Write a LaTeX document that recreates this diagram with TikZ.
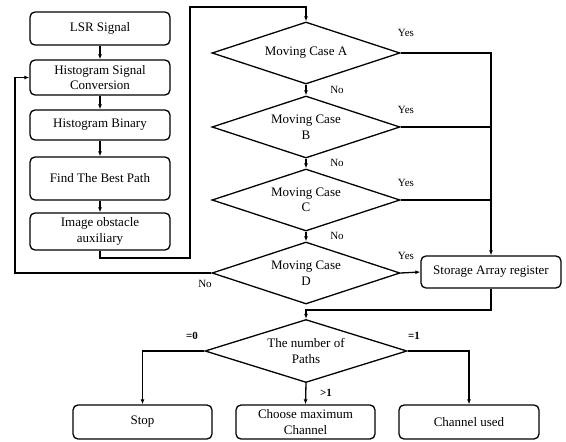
\documentclass[tikz,border=0pt]{standalone}
\usepackage{fontspec}
\setmainfont{Liberation Serif}
\usetikzlibrary{shapes.geometric,arrows.meta}
\begin{document}
\begin{tikzpicture}[x=1pt,y=-1pt,
  every node/.style={font=\fontsize{13}{15.5}\selectfont},
  box/.style={draw,line width=1.3pt,rounded corners=5pt,minimum width=140pt,align=center,inner sep=1pt},
  dec/.style={draw,line width=1.3pt,diamond,aspect=3,inner sep=0pt,minimum width=188pt,minimum height=62pt,align=center},
  lbl/.style={font=\fontsize{11}{13}\selectfont,inner sep=0pt},
  blbl/.style={font=\fontsize{11}{13}\selectfont\bfseries,inner sep=0pt},
  ln/.style={line width=1.3pt},
  ar/.style={line width=1.3pt,-{Latex[length=5pt,width=4pt]}}]
\useasboundingbox (0,0) rectangle (566,442);
% left column
\node[box,minimum height=33pt] (lsr) at (100,28.5) {LSR Signal};
\node[box,minimum height=35pt] (hsc) at (100,77.5) {Histogram Signal\\Conversion};
\node[box,minimum height=30pt] (hb) at (100,125) {Histogram Binary};
\node[box,minimum height=43pt] (fbp) at (100,178.5) {Find The Best Path};
\node[box,minimum height=37pt] (ioa) at (100,231.5) {Image obstacle\\auxiliary};
% diamonds
\node[dec] (a) at (306,53) {Moving Case A};
\node[dec] (b) at (306,127) {Moving Case\\B};
\node[dec] (c) at (306,200) {Moving Case\\C};
\node[dec] (d) at (306,273) {Moving Case\\D};
\node[box,minimum height=32pt] (sar) at (491,272) {Storage Array register};
\node[dec,minimum width=202pt,minimum height=63pt] (n) at (306,351) {The number of\\Paths};
\node[box,minimum height=34pt,minimum width=139pt] (stop) at (142.5,422) {Stop};
\node[box,minimum height=34pt,minimum width=139pt] (ch) at (305.5,422) {Choose maximum\\Channel};
\node[box,minimum height=34pt,minimum width=140pt] (cu) at (469,422) {Channel used};
% coordinates
\coordinate (p1) at (100,258);
\coordinate (p2) at (190,258);
\coordinate (p3) at (190,7);
\coordinate (p4) at (306,7);
\coordinate (q1) at (15,273);
\coordinate (q2) at (15,77.5);
\coordinate (r1) at (491,310);
\coordinate (r2) at (306,310);
% arrows
\draw[ar] (lsr) -- (hsc);
\draw[ar] (hsc) -- (hb);
\draw[ar] (hb) -- (fbp);
\draw[ar] (fbp) -- (ioa);
\draw[ar] (ioa.south) -- (p1) -- (p2) -- (p3) -- (p4) -- (a.north);
\draw[ar] (a.south) -- (b.north);
\draw[ar] (b.south) -- (c.north);
\draw[ar] (c.south) -- (d.north);
\draw[ar] (a.east) -| (sar.north);
\draw[ln] (b.east) -- (b.east -| sar.north);
\draw[ln] (c.east) -- (c.east -| sar.north);
\draw[ar] (d.east) -- (sar.west);
\draw[ar] (d.west) -- (q1) -- (q2) -- (hsc.west);
\draw[ar] (sar.south) -- (r1) -- (r2) -- (n.north);
\draw[ar] (n.west) -| (stop.north);
\draw[ar] (n.south) -- (ch.north);
\draw[ar] (n.east) -| (cu.north);
% labels
\node[lbl] (ya) at (406,33) {Yes};
\node[lbl] (yb) at (406,110) {Yes};
\node[lbl] (yc) at (406,183) {Yes};
\node[lbl] (yd) at (406,256) {Yes};
\node[lbl] (na) at (337,90) {No};
\node[lbl] (nb) at (337,163) {No};
\node[lbl] (nc) at (337,236) {No};
\node[lbl] (nd) at (205,284) {No};
\node[blbl] (e0) at (192,336) {=0};
\node[blbl] (e1) at (414,336) {=1};
\node[blbl] (g1) at (326,393) {>1};
\end{tikzpicture}
\end{document}
